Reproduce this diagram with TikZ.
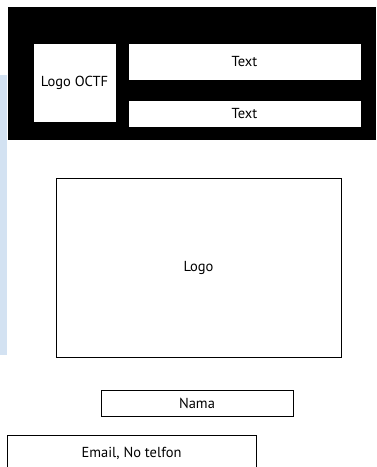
\documentclass[tikz,border=0pt]{standalone}
\usepackage{fontspec}
\setmainfont{PT Sans}
\usetikzlibrary{positioning}

\definecolor{sidebar}{HTML}{D3E2F2}

\begin{document}
\begin{tikzpicture}[
    x=1pt, y=-1pt,
    every node/.style={font=\fontsize{14.5}{16}\selectfont},
    box/.style={draw, fill=white, line width=1pt, inner sep=0pt},
    header/.style={fill=black, inner sep=0pt, anchor=north west}
]
    \useasboundingbox (0,0) rectangle (376,467);
    \clip (0,0) rectangle (376,467);

    % sidebar of the screenshot
    \fill[sidebar] (0,75) rectangle (7,355);

    \node[header, minimum width=368pt, minimum height=133pt] (head) at (8,7) {};

    \node[box, minimum width=83pt, minimum height=79pt]  (octf)  at (74.5,82.5)  {Logo OCTF};
    \node[box, minimum width=233pt, minimum height=37pt] (text1) at (244.5,61.5) {Text};
    \node[box, minimum width=233pt, minimum height=27pt] (text2) at (244.5,113.5) {Text};

    \node[box, minimum width=285pt, minimum height=179pt] (logo) at (198.5,267.5) {Logo};

    \node[box, minimum width=192pt, minimum height=26pt]  (nama)  at (197,403)   {Nama};
    \node[box, minimum width=249pt, minimum height=36pt]  (email) at (131.5,453) {Email, No telfon};
\end{tikzpicture}
\end{document}
